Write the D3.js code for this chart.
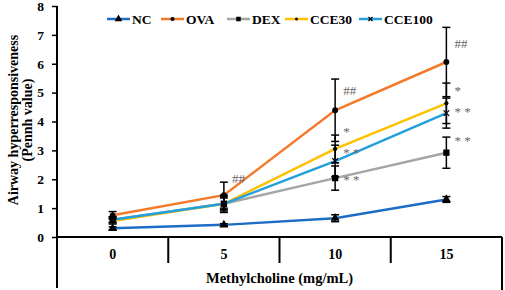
<!DOCTYPE html>
<html lang="en">
<head>
<meta charset="UTF-8">
<title>Airway hyperresponsiveness</title>
<script src="https://d3js.org/d3.v7.min.js"></script>
<style>
  body { margin: 0; background: #fff; overflow: hidden; }
  text { font-family: "Liberation Serif", "Times New Roman", serif; font-weight: bold; }
</style>
</head>
<body>
<div id="chart"></div>
<script>
const doses = ["0", "5", "10", "15"];
const yTicks = [0, 1, 2, 3, 4, 5, 6, 7, 8];

const ncMean = [0.3, 0.42, 0.65, 1.3];
const ncErr = [0.05, 0.04, 0.12, 0.1];
const ovaMean = [0.75, 1.45, 4.39, 6.06];
const ovaErr = [0.13, 0.45, 1.08, 1.2];
const dexMean = [0.6, 1.15, 2.04, 2.92];
const dexErr = [0.1, 0.2, 0.42, 0.54];
const cce30Mean = [0.55, 1.15, 3.05, 4.63];
const cce30Err = [0.1, 0.25, 0.48, 0.7];
const cce100Mean = [0.6, 1.15, 2.63, 4.29];
const cce100Err = [0.1, 0.3, 0.55, 0.52];

// significance labels, placed at a value height next to each dose
const sigLabels = [
  { dose: "5", value: 1.95, text: "##" },
  { dose: "10", value: 5.0, text: "##" },
  { dose: "10", value: 3.55, text: "*" },
  { dose: "10", value: 2.85, text: "* *" },
  { dose: "10", value: 1.9, text: "* *" },
  { dose: "15", value: 6.6, text: "##" },
  { dose: "15", value: 5.0, text: "*" },
  { dose: "15", value: 4.25, text: "* *" },
  { dose: "15", value: 3.25, text: "* *" }
];

const series = [
  { name: "NC", mean: ncMean, err: ncErr, color: "#1f6cc4", marker: "triangle" },
  { name: "OVA", mean: ovaMean, err: ovaErr, color: "#f47a2b", marker: "circle" },
  { name: "DEX", mean: dexMean, err: dexErr, color: "#a5a5a5", marker: "square" },
  { name: "CCE30", mean: cce30Mean, err: cce30Err, color: "#ffc000", marker: "diamond" },
  { name: "CCE100", mean: cce100Mean, err: cce100Err, color: "#23a0dc", marker: "cross" }
];

const width = 505, height = 290;
const margin = { top: 6, right: 3, bottom: 53, left: 57 };

const svg = d3.select("#chart").append("svg")
  .attr("width", width)
  .attr("height", height);

const x = d3.scaleBand().domain(doses).range([margin.left, width - margin.right]);
const y = d3.scaleLinear().domain([0, 8]).range([height - margin.bottom, margin.top]);
const cx = d => x(d) + x.bandwidth() / 2;

// y axis
const yAxis = svg.append("g")
  .attr("transform", `translate(${margin.left},0)`)
  .call(d3.axisLeft(y).tickValues(yTicks).tickSize(5).tickPadding(8).tickSizeOuter(0));
yAxis.select(".domain").remove();
yAxis.selectAll("line").attr("stroke", "#000").attr("stroke-width", 1.5);
yAxis.selectAll("text").style("font-size", "13.5px").attr("fill", "#000");

svg.append("line")
  .attr("x1", margin.left).attr("x2", margin.left)
  .attr("y1", y(8)).attr("y2", height - 2)
  .attr("stroke", "#000").attr("stroke-width", 2);

// x axis with category boxes
const y0 = y(0);
svg.append("line")
  .attr("x1", margin.left).attr("x2", width - margin.right)
  .attr("y1", y0).attr("y2", y0)
  .attr("stroke", "#000").attr("stroke-width", 2);
doses.slice(1).forEach(d => {
  svg.append("line")
    .attr("x1", x(d)).attr("x2", x(d))
    .attr("y1", y0).attr("y2", y0 + 26)
    .attr("stroke", "#000").attr("stroke-width", 2);
});
svg.append("line")
  .attr("x1", width - margin.right).attr("x2", width - margin.right)
  .attr("y1", y0).attr("y2", height)
  .attr("stroke", "#000").attr("stroke-width", 2);

svg.selectAll(".xlab").data(doses).enter().append("text")
  .attr("x", d => cx(d))
  .attr("y", y0 + 22)
  .attr("text-anchor", "middle")
  .style("font-size", "14px")
  .text(d => d);

svg.append("text")
  .attr("x", (margin.left + width - margin.right) / 2)
  .attr("y", 283)
  .attr("text-anchor", "middle")
  .style("font-size", "14.5px")
  .text("Methylcholine (mg/mL)");

// y title
const yt = svg.append("text")
  .attr("transform", "translate(0,120) rotate(-90)")
  .attr("text-anchor", "middle")
  .style("font-size", "14px");
yt.append("tspan").attr("x", 0).attr("y", 18).text("Airway hyperresponsiveness");
yt.append("tspan").attr("x", 0).attr("y", 32).text("(Pennh value)");

// lines
const line = d3.line().x(d => cx(d.dose)).y(d => y(d.v));
series.forEach(s => {
  const pts = doses.map((d, i) => ({ dose: d, v: s.mean[i], e: s.err[i] }));
  s.pts = pts;
  svg.append("path")
    .datum(pts)
    .attr("d", line)
    .attr("fill", "none")
    .attr("stroke", s.color)
    .attr("stroke-width", 2.5);
});

// error bars
series.forEach(s => {
  const g = svg.append("g");
  s.pts.forEach(p => {
    const px = cx(p.dose);
    g.append("line").attr("x1", px).attr("x2", px)
      .attr("y1", y(p.v + p.e)).attr("y2", y(p.v - p.e))
      .attr("stroke", "#000").attr("stroke-width", 1.5);
    [p.v + p.e, p.v - p.e].forEach(v => {
      g.append("line").attr("x1", px - 4).attr("x2", px + 4)
        .attr("y1", y(v)).attr("y2", y(v))
        .attr("stroke", "#000").attr("stroke-width", 1.5);
    });
  });
});

// markers
function drawMarker(g, type, px, py, size) {
  if (type === "triangle") {
    g.append("path").attr("d", d3.symbol(d3.symbolTriangle, size * 5)())
      .attr("transform", `translate(${px},${py})`).attr("fill", "#000");
  } else if (type === "circle") {
    g.append("circle").attr("cx", px).attr("cy", py).attr("r", size * 0.42).attr("fill", "#000");
  } else if (type === "square") {
    g.append("rect").attr("x", px - size * 0.45).attr("y", py - size * 0.45)
      .attr("width", size * 0.9).attr("height", size * 0.9).attr("fill", "#000");
  } else if (type === "diamond") {
    g.append("circle").attr("cx", px).attr("cy", py).attr("r", size * 0.3).attr("fill", "#000");
  } else if (type === "cross") {
    const h = size * 0.4;
    g.append("path").attr("d", `M${px - h},${py - h}L${px + h},${py + h}M${px - h},${py + h}L${px + h},${py - h}`)
      .attr("stroke", "#000").attr("stroke-width", 1.2);
  }
}
series.forEach(s => {
  const g = svg.append("g");
  s.pts.forEach(p => drawMarker(g, s.marker, cx(p.dose), y(p.v), 7));
});

// significance marks
svg.selectAll(".sig").data(sigLabels).enter().append("text")
  .attr("x", d => cx(d.dose) + 8)
  .attr("y", d => y(d.value) + 2)
  .style("font-size", "13px")
  .style("font-weight", "normal")
  .attr("fill", "#666")
  .text(d => d.text);

// legend
const legendX = [107, 161, 227, 285, 359];
series.forEach((s, i) => {
  const g = svg.append("g").attr("transform", `translate(${legendX[i]},19)`);
  g.append("line").attr("x1", 0).attr("x2", 23).attr("y1", 0).attr("y2", 0)
    .attr("stroke", s.color).attr("stroke-width", 2.5);
  drawMarker(g, s.marker, 11.5, 0, 5);
  g.append("text").attr("x", 25).attr("y", 4.5).style("font-size", "13.5px").text(s.name);
});
</script>
</body>
</html>
